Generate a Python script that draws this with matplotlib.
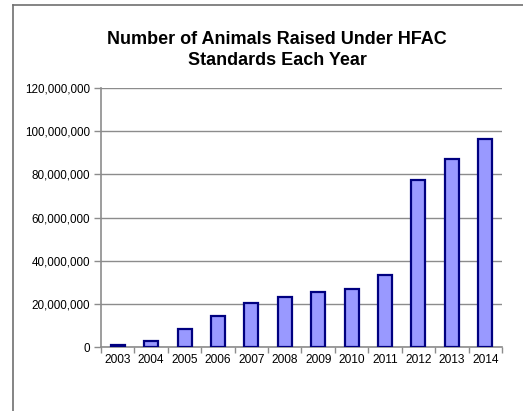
import matplotlib.pyplot as plt
from matplotlib.lines import Line2D
from matplotlib.ticker import FuncFormatter, FixedLocator
import numpy as np

plt.rcParams['font.family'] = ['Liberation Sans', 'DejaVu Sans']

# data
years = ['2003', '2004', '2005', '2006', '2007', '2008',
         '2009', '2010', '2011', '2012', '2013', '2014']
animals = [800000, 2900000, 8300000, 14500000, 20500000, 23000000,
           25600000, 26800000, 33300000, 77300000, 87300000, 96300000]

fig = plt.figure(figsize=(5.23, 4.11), dpi=100)
ax = fig.add_axes([101 / 523, 1 - 347 / 411, 401 / 523, 259 / 411])

x = np.arange(len(years))
ax.bar(x, animals, width=0.42, color='#9999ff', edgecolor='#000080', linewidth=1.6, zorder=3)

ax.set_xlim(-0.5, len(years) - 0.5)
ax.set_ylim(0, 120000000)
ax.set_yticks(np.arange(0, 120000001, 20000000))
ax.yaxis.set_major_formatter(FuncFormatter(lambda v, p: f'{int(v):,}'))
ax.yaxis.grid(True, color='#8c8c8c', linewidth=1.0, zorder=0)

ax.set_xticks(x)
ax.set_xticklabels(years)
ax.xaxis.set_minor_locator(FixedLocator(np.arange(-0.5, len(years), 1)))
ax.tick_params(axis='x', which='major', length=0, labelsize=8.6, pad=5)
ax.tick_params(axis='x', which='minor', length=4, color='#8c8c8c', width=1)
ax.tick_params(axis='y', length=5, color='#8c8c8c', width=1, labelsize=8.4, pad=3)

for s in ['top', 'right']:
    ax.spines[s].set_visible(False)
for s in ['left', 'bottom']:
    ax.spines[s].set_color('#8c8c8c')
    ax.spines[s].set_linewidth(1.2)

fig.text(277 / 523, 1 - 50 / 411, 'Number of Animals Raised Under HFAC\nStandards Each Year',
         ha='center', va='center', fontsize=13, fontweight='bold', linespacing=1.25)

# outer frame of the chart box: top and left edges only
fig.lines.append(Line2D([13 / 523, 1.0], [1 - 5 / 411, 1 - 5 / 411],
                        transform=fig.transFigure, color='#707070', linewidth=1.2))
fig.lines.append(Line2D([13 / 523, 13 / 523], [0.0, 1 - 5 / 411],
                        transform=fig.transFigure, color='#707070', linewidth=1.2))

fig.savefig('out.png', dpi=100)
